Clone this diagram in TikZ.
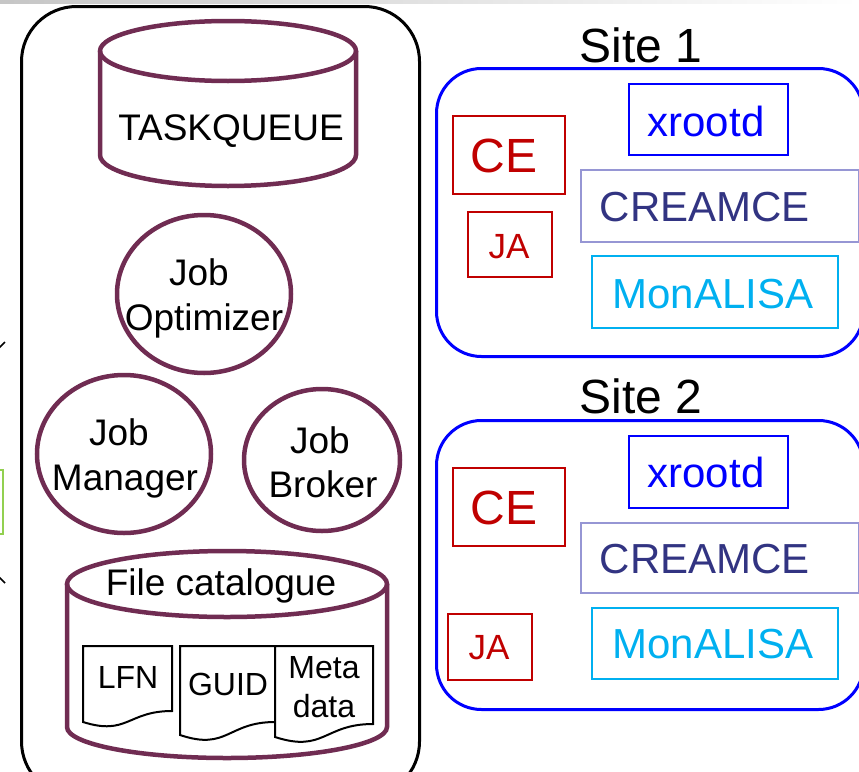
\documentclass[tikz,border=0pt]{standalone}
\usepackage{fontspec}
\setmainfont{Liberation Sans}
\usetikzlibrary{shapes.geometric}
\definecolor{maroonc}{RGB}{112,44,82}
\definecolor{redc}{RGB}{192,0,0}
\definecolor{bluec}{RGB}{0,0,255}
\definecolor{creamline}{RGB}{150,150,212}
\definecolor{creamtext}{RGB}{50,52,130}
\definecolor{cyanc}{RGB}{0,176,240}
\definecolor{greenc}{RGB}{146,208,80}
\tikzset{
  mline/.style={draw=maroonc, line width=4.5pt},
  jobell/.style={ellipse, mline, inner sep=0pt},
  txt/.style={inner sep=0pt, anchor=base},
  f32/.style={font=\fontsize{32}{38}\selectfont},
  f35/.style={font=\fontsize{35}{42}\selectfont},
  f37/.style={font=\fontsize{37}{44}\selectfont},
  f42/.style={font=\fontsize{42}{50}\selectfont},
  f48/.style={font=\fontsize{48}{56}\selectfont},
  sitebox/.style={draw=bluec, line width=3pt, rounded corners=45pt, anchor=north west, inner sep=0pt},
  ibox/.style={line width=2pt, anchor=north west, inner sep=0pt, fill=white},
  docbox/.style={draw=black, line width=2pt, fill=white, line join=miter},
}
\begin{document}
\begin{tikzpicture}[x=1pt,y=-1pt]
\useasboundingbox (0,0) rectangle (859,771);
\fill[left color=gray!45, right color=white] (0,0) rectangle (859,3);

% left fragments
\node[draw=greenc, line width=2pt, anchor=north east, minimum width=40pt, minimum height=64pt, inner sep=0pt] (greenfrag) at (4,469) {};
\coordinate (fa1) at (-1,348); \coordinate (fa2) at (5,342);
\coordinate (fb1) at (-1,577); \coordinate (fb2) at (5,583);
\draw[line width=1.5pt] (fa1) -- (fa2);
\draw[line width=1.5pt] (fb1) -- (fb2);

% central services box
\node[draw=black, line width=3pt, rounded corners=55pt, anchor=north west, minimum width=398pt, minimum height=790pt, inner sep=0pt] (central) at (20,5) {};

% TASKQUEUE cylinder
\draw[mline, fill=white] (100,51) -- (100,155) arc[start angle=180, end angle=0, x radius=128, y radius=31] -- (356,51);
\draw[mline] (228,51) ellipse [x radius=128, y radius=30];
\node[txt, f37] (tq) at (231,140) {TASKQUEUE};

% Job ellipses
\node[jobell, minimum width=174pt, minimum height=158pt] (opt) at (204,294) {};
\node[txt, f37] (optA) at (199,285) {Job};
\node[txt, f37] (optB) at (204,330) {Optimizer};
\node[jobell, minimum width=174pt, minimum height=158pt] (man) at (124,454) {};
\node[txt, f37] (manA) at (119,445) {Job};
\node[txt, f37] (manB) at (125,490) {Manager};
\node[jobell, minimum width=156pt, minimum height=142pt] (bro) at (322,460) {};
\node[txt, f37] (broA) at (320,453) {Job};
\node[txt, f37] (broB) at (323,497) {Broker};

% File catalogue cylinder
\draw[mline, fill=white] (67,584) -- (67,727) arc[start angle=180, end angle=0, x radius=160, y radius=31] -- (387,584);
\draw[mline] (227,584) ellipse [x radius=160, y radius=33];
\node[txt, f37] (fc) at (221,595) {File catalogue};

% documents
\draw[docbox] (83,646) -- (172,646) -- (172,711) .. controls (127.5,711) and (127.5,736) .. (83,722) -- cycle;
\draw[docbox] (180,646) -- (275,646) -- (275,722) .. controls (227.5,722) and (227.5,751) .. (180,735) -- cycle;
\draw[docbox] (275,646) -- (373,646) -- (373,724) .. controls (324,724) and (324,753) .. (275,737) -- cycle;
\node[txt, f32] (lfn) at (128,688) {LFN};
\node[txt, f32] (guid) at (228,695) {GUID};
\node[txt, f32] (metaA) at (324,678) {Meta};
\node[txt, f32] (metaB) at (324,717) {data};

% Site 1
\node[sitebox, minimum width=427pt, minimum height=288pt] (site1) at (435,67) {};
\node[txt, f48] (s1t) at (641,62) {Site 1};
\node[ibox, draw=redc, minimum width=112pt, minimum height=78pt] (ce1) at (452,115) {};
\node[txt, f48, text=redc] (ce1t) at (504,172) {CE};
\node[ibox, draw=redc, minimum width=84pt, minimum height=65pt] (ja1) at (467,211) {};
\node[txt, f35, text=redc] (ja1t) at (509,258) {JA};
\node[ibox, draw=bluec, minimum width=159pt, minimum height=71pt] (xr1) at (628,83) {};
\node[txt, f42, text=bluec] (xr1t) at (706,136) {xrootd};
\node[ibox, draw=creamline, minimum width=278pt, minimum height=72pt] (cr1) at (580,169) {};
\node[txt, f42, text=creamtext] (cr1t) at (705,221) {CREAMCE};
\node[ibox, draw=cyanc, minimum width=246pt, minimum height=72pt] (mo1) at (591,255) {};
\node[txt, f42, text=cyanc] (mo1t) at (713,308) {MonALISA};

% Site 2
\node[sitebox, minimum width=427pt, minimum height=289pt] (site2) at (435,419) {};
\node[txt, f48] (s2t) at (641,413) {Site 2};
\node[ibox, draw=redc, minimum width=112pt, minimum height=78pt] (ce2) at (452,467) {};
\node[txt, f48, text=redc] (ce2t) at (504,524) {CE};
\node[ibox, draw=redc, minimum width=84pt, minimum height=66pt] (ja2) at (447,613) {};
\node[txt, f35, text=redc] (ja2t) at (489,659) {JA};
\node[ibox, draw=bluec, minimum width=159pt, minimum height=72pt] (xr2) at (628,435) {};
\node[txt, f42, text=bluec] (xr2t) at (706,487) {xrootd};
\node[ibox, draw=creamline, minimum width=278pt, minimum height=70pt] (cr2) at (580,522) {};
\node[txt, f42, text=creamtext] (cr2t) at (705,573) {CREAMCE};
\node[ibox, draw=cyanc, minimum width=246pt, minimum height=71pt] (mo2) at (591,607) {};
\node[txt, f42, text=cyanc] (mo2t) at (713,658) {MonALISA};
\end{tikzpicture}
\end{document}
